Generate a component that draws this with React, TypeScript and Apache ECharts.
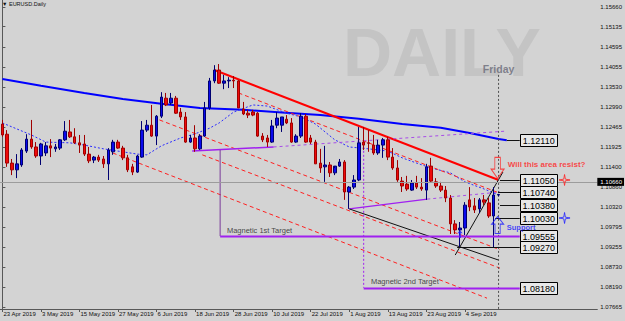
import React, { useEffect, useRef } from "react";
import * as echarts from "echarts";

const dates = [
  "23 Apr 2019","24 Apr 2019","25 Apr 2019","26 Apr 2019","29 Apr 2019","30 Apr 2019",
  "1 May 2019","2 May 2019","3 May 2019","6 May 2019","7 May 2019","8 May 2019","9 May 2019","10 May 2019",
  "13 May 2019","14 May 2019","15 May 2019","16 May 2019","17 May 2019","20 May 2019","21 May 2019","22 May 2019",
  "23 May 2019","24 May 2019","27 May 2019","28 May 2019","29 May 2019","30 May 2019","31 May 2019",
  "3 Jun 2019","4 Jun 2019","5 Jun 2019","6 Jun 2019","7 Jun 2019","10 Jun 2019","11 Jun 2019","12 Jun 2019",
  "13 Jun 2019","14 Jun 2019","17 Jun 2019","18 Jun 2019","19 Jun 2019","20 Jun 2019","21 Jun 2019","24 Jun 2019",
  "25 Jun 2019","26 Jun 2019","27 Jun 2019","28 Jun 2019",
  "1 Jul 2019","2 Jul 2019","3 Jul 2019","4 Jul 2019","5 Jul 2019","8 Jul 2019","9 Jul 2019","10 Jul 2019",
  "11 Jul 2019","12 Jul 2019","15 Jul 2019","16 Jul 2019","17 Jul 2019","18 Jul 2019","19 Jul 2019","22 Jul 2019",
  "23 Jul 2019","24 Jul 2019","25 Jul 2019","26 Jul 2019","29 Jul 2019","30 Jul 2019","31 Jul 2019",
  "1 Aug 2019","2 Aug 2019","5 Aug 2019","6 Aug 2019","7 Aug 2019","8 Aug 2019","9 Aug 2019","12 Aug 2019",
  "13 Aug 2019","14 Aug 2019","15 Aug 2019","16 Aug 2019","19 Aug 2019","20 Aug 2019","21 Aug 2019","22 Aug 2019",
  "23 Aug 2019","26 Aug 2019","27 Aug 2019","28 Aug 2019","29 Aug 2019","30 Aug 2019",
  "2 Sep 2019","3 Sep 2019","4 Sep 2019","5 Sep 2019","6 Sep 2019","9 Sep 2019","10 Sep 2019","11 Sep 2019",
  "12 Sep 2019","13 Sep 2019"
];

const opens = [
  1.1254,1.1227,1.1150,1.1132,1.1145,1.1182,1.1214,1.1193,1.1169,1.1177,1.1196,1.1188,1.1190,1.1212,
  1.1233,1.1220,1.1204,1.1201,1.1174,1.1158,1.1166,1.1161,1.1148,1.1180,1.1206,1.1190,1.1164,1.1140,1.1126,
  1.1166,1.1238,1.1251,1.1222,1.1275,1.1323,1.1310,1.1323,1.1286,1.1273,1.1206,1.1217,1.1188,1.1222,1.1297,
  1.1369,1.1398,1.1363,1.1369,1.1371,1.1369,1.1294,1.1283,1.1286,1.1283,1.1222,1.1217,1.1206,1.1251,1.1251,
  1.1267,1.1257,1.1206,1.1222,1.1275,1.1217,1.1206,1.1150,1.1140,1.1145,1.1124,1.1142,1.1153,1.1073,1.1086,
  1.1105,1.1206,1.1204,1.1198,1.1177,1.1198,1.1212,1.1166,1.1137,1.1102,1.1094,1.1078,1.1097,1.1086,1.1078,
  1.1142,1.1100,1.1089,1.1078,1.1057,1.0988,1.0972,1.0977,1.1052,1.1036,1.1028,1.1052,1.1044,1.1009,1.1065
];
const highs = [
  1.1265,1.1238,1.1161,1.1174,1.1190,1.1227,1.1265,1.1206,1.1204,1.1206,1.1214,1.1201,1.1214,1.1262,
  1.1265,1.1243,1.1225,1.1225,1.1193,1.1169,1.1172,1.1169,1.1190,1.1212,1.1212,1.1196,1.1172,1.1148,1.1172,
  1.1262,1.1265,1.1305,1.1278,1.1339,1.1337,1.1337,1.1329,1.1297,1.1286,1.1225,1.1251,1.1227,1.1313,1.1377,
  1.1411,1.1414,1.1385,1.1379,1.1382,1.1371,1.1313,1.1292,1.1292,1.1286,1.1230,1.1225,1.1265,1.1286,1.1273,
  1.1278,1.1270,1.1227,1.1283,1.1281,1.1225,1.1212,1.1188,1.1196,1.1153,1.1137,1.1161,1.1158,1.1089,1.1118,
  1.1246,1.1246,1.1238,1.1225,1.1212,1.1217,1.1220,1.1190,1.1158,1.1113,1.1116,1.1105,1.1116,1.1110,1.1148,
  1.1164,1.1110,1.1100,1.1089,1.1065,1.0998,1.0993,1.1046,1.1086,1.1057,1.1057,1.1065,1.1057,1.1086,1.1068
];
const lows = [
  1.1220,1.1140,1.1118,1.1110,1.1140,1.1177,1.1188,1.1164,1.1145,1.1169,1.1166,1.1180,1.1185,1.1209,
  1.1217,1.1201,1.1177,1.1169,1.1150,1.1150,1.1153,1.1137,1.1105,1.1172,1.1188,1.1158,1.1126,1.1118,1.1124,
  1.1164,1.1233,1.1220,1.1198,1.1270,1.1302,1.1305,1.1281,1.1265,1.1204,1.1204,1.1180,1.1185,1.1220,1.1292,
  1.1363,1.1361,1.1347,1.1350,1.1350,1.1297,1.1278,1.1270,1.1275,1.1220,1.1206,1.1193,1.1204,1.1243,1.1233,
  1.1254,1.1204,1.1204,1.1217,1.1204,1.1201,1.1148,1.1124,1.1100,1.1113,1.1118,1.1140,1.1052,1.1028,1.1081,
  1.1102,1.1185,1.1180,1.1172,1.1172,1.1164,1.1158,1.1132,1.1100,1.1073,1.1076,1.1076,1.1081,1.1076,1.1052,
  1.1100,1.1084,1.1073,1.1046,1.0961,1.0961,1.0926,1.0958,1.1022,1.1017,1.1017,1.1038,1.1004,1.0926,1.1062
];
const closes = [
  1.1225,1.1150,1.1132,1.1148,1.1185,1.1214,1.1193,1.1169,1.1201,1.1196,1.1190,1.1193,1.1212,1.1235,
  1.1220,1.1204,1.1198,1.1174,1.1156,1.1166,1.1158,1.1148,1.1185,1.1206,1.1190,1.1164,1.1132,1.1126,1.1169,
  1.1238,1.1251,1.1222,1.1275,1.1326,1.1305,1.1323,1.1283,1.1273,1.1206,1.1217,1.1188,1.1222,1.1297,1.1369,
  1.1398,1.1363,1.1369,1.1371,1.1369,1.1297,1.1281,1.1278,1.1278,1.1222,1.1212,1.1206,1.1249,1.1270,1.1273,
  1.1257,1.1206,1.1222,1.1275,1.1206,1.1206,1.1148,1.1137,1.1145,1.1124,1.1142,1.1153,1.1073,1.1086,1.1105,
  1.1204,1.1198,1.1203,1.1177,1.1198,1.1212,1.1166,1.1137,1.1105,1.1089,1.1081,1.1097,1.1086,1.1081,1.1140,
  1.1102,1.1089,1.1078,1.1057,1.0988,1.0972,1.0977,1.1038,1.1033,1.1025,1.1052,1.1046,1.1009,1.1065,1.1066
];

const futureSlots = ["f1","f2","f3","f4","f5","f6","f7","f8","f9","f10","f11","f12","f13","f14","f15","f16","f17","f18","f19","f20"];

const yTicks = [1.15660,1.15135,1.14595,1.14055,1.13530,1.12990,1.12465,1.11925,1.11400,1.10860,1.10320,1.09795,1.09255,1.08730,1.08190,1.07665];
const Y_MIN = 1.076118;
const Y_MAX = 1.158466;
const BID = 1.1066;

// moving averages: [bar index, price]
const maSlow = [[0,1.1374],[8,1.1356],[17,1.1337],[25,1.1321],[33,1.1308],[41,1.1297],[50,1.1292],[58,1.1285],[66,1.1278],[74,1.1268],[83,1.1254],[91,1.1244],[97,1.1230],[103,1.1214],[104.7,1.1211]];
const maFast = [[0,1.1257],[6,1.1225],[9,1.1206],[14,1.1204],[17,1.1198],[21,1.1188],[24,1.1182],[28,1.1174],[30,1.1172],[33,1.1196],[37,1.1217],[40,1.1228],[43,1.1243],[45,1.1257],[48,1.1286],[52,1.1305],[55,1.1302],[59,1.1283],[62,1.1273],[65,1.1254],[69,1.1212],[72,1.1193],[76,1.1188],[80,1.1182],[83,1.1164],[86,1.1150],[89,1.1137],[93,1.1124],[96,1.1100],[100,1.1081],[103,1.1065]];

// trend lines: [bar index, price] endpoints
const redMain = [[44,1.1398],[103,1.1105]];
const redDashed = [
  [[49,1.1337],[103,1.1071]],
  [[32.6,1.1265],[103.3,1.0919]],
  [[41.5,1.1172],[103.3,1.0870]],
  [[22.9,1.1177],[100.6,1.0790]]
];
const purpleSolid = [
  [[39.4,1.1182],[56.3,1.1193]],
  [[72,1.1028],[88.2,1.1054]]
];
const purpleDashed = [
  [[56.3,1.1193],[104.3,1.1235]],
  [[88.2,1.1054],[103.3,1.1073]]
];
const magnetic1Vertical = [[45.2,1.1185],[45.2,1.09555]];
const magnetic2Vertical = [[75,1.1204],[75,1.0818]];
const blackLines = [
  [[72,1.1028],[102.9,1.0892]],
  [[94,1.0905],[103.9,1.1126]]
];
const fridayLine = [[103,1.1385],[103,Y_MIN]];

// price level boxes
const levelPrices = [1.12110,1.11050,1.10740,1.10380,1.10030,1.09555,1.09270,1.08180];
const levelStarts = [104.7,103.3,102.9,103.3,102.3,45.2,94.4,75];
const levelPurple = [false,false,false,false,false,true,false,true];
const BOX_IDX = 107.4;

// annotations
const textNotes = [
  { at: [46.6, 1.09691], text: "Magnetic 1st Target", color: "#1a1a1a", bold: false, size: 7.5 },
  { at: [76.5, 1.08332], text: "Magnetic 2nd Target", color: "#1a1a1a", bold: false, size: 7.5 },
  { at: [104.9, 1.11450], text: "Will this area resist?", color: "#ff1e1e", bold: true, size: 8 },
  { at: [104.7, 1.09797], text: "Support", color: "#1a1aff", bold: true, size: 7.5 }
];
const fridayLabel = [103, 1.1401];
const downArrow = [102.8, 1.1137];
const upArrow = [102.8, 1.0985];
const smallArrow = [95, 1.0961];
const stars = [
  { at: [116.7, 1.11050], color: "#ff2020" },
  { at: [116.7, 1.10037], color: "#2020ff" }
];

const FONT = "Liberation Sans, Arial, sans-serif";

export default function App() {
  const ref = useRef<HTMLDivElement>(null);
  useEffect(() => {
    document.body.style.margin = "0";
    const chart = echarts.init(ref.current!, null, { renderer: "svg" });
    const categories = [...dates, ...futureSlots];
    const candles = dates.map((_, i) => [opens[i], closes[i], lows[i], highs[i]]);
    const showIdx = (i: number) => i % 8 === 0 && i < dates.length;

    const lineSeries = (data: number[][], color: string, width: number, type: any) => ({
      type: "line",
      xAxisIndex: 1,
      yAxisIndex: 0,
      data,
      showSymbol: false,
      symbol: "none",
      silent: true,
      animation: false,
      lineStyle: { color, width, type },
      z: 3,
    });

    const series: any[] = [];
    series.push(lineSeries(maSlow, "#0000ff", 2, "solid"));
    series.push(lineSeries(maFast, "#2a2aff", 1, [2, 2]));
    redDashed.forEach((d) => series.push(lineSeries(d, "#ff2020", 1, [4, 3])));
    series.push(lineSeries(redMain, "#ff0000", 2, "solid"));
    purpleSolid.forEach((d) => series.push(lineSeries(d, "#a020f0", 1.5, "solid")));
    purpleDashed.forEach((d) => series.push(lineSeries(d, "#a84ce8", 1, [3, 3])));
    series.push(lineSeries(magnetic1Vertical, "#7a3a9a", 1, "solid"));
    series.push(lineSeries(magnetic2Vertical, "#a020f0", 1, [2, 2]));
    blackLines.forEach((d) => series.push(lineSeries(d, "#111111", 1, "solid")));
    series.push(lineSeries(fridayLine, "#505050", 1, [2, 2]));

    series.push({
      type: "candlestick",
      data: candles,
      barWidth: 3,
      z: 4,
      itemStyle: {
        color: "#0a0aee",
        color0: "#ee0a0a",
        borderColor: "#000070",
        borderColor0: "#a00000",
        borderWidth: 1,
      },
      markLine: {
        silent: true,
        symbol: ["none", "none"],
        animation: false,
        data: [{ yAxis: BID }],
        lineStyle: { color: "#9c9c9c", width: 1, type: "solid" },
        label: {
          show: true,
          position: "end",
          distance: 0,
          formatter: BID.toFixed(5),
          color: "#ffffff",
          backgroundColor: "#000000",
          fontSize: 6,
          fontFamily: FONT,
          padding: [1, 2, 1, 3],
        },
      },
    });

    series.push({
      type: "custom",
      xAxisIndex: 1,
      yAxisIndex: 0,
      z: 6,
      silent: true,
      data: levelPrices.map((p, i) => [levelStarts[i], p]),
      renderItem: (params: any, api: any) => {
        const i = params.dataIndex;
        const start = api.coord([api.value(0), api.value(1)]);
        const box = api.coord([BOX_IDX, api.value(1)]);
        const y = Math.round(start[1]) + 0.5;
        const purple = levelPurple[i];
        return {
          type: "group",
          children: [
            {
              type: "line",
              shape: { x1: start[0], y1: y, x2: box[0], y2: y },
              style: { stroke: purple ? "#a020f0" : "#111111", lineWidth: purple ? 2 : 1 },
            },
            {
              type: "rect",
              shape: { x: Math.round(box[0]) + 0.5, y: y - 6, width: 37, height: 12 },
              style: { fill: "#e8e8e8", stroke: "#000000", lineWidth: 1 },
            },
            {
              type: "text",
              style: {
                text: levelPrices[i].toFixed(5),
                x: box[0] + 19,
                y: y,
                align: "center",
                verticalAlign: "middle",
                font: `9px ${FONT}`,
                fill: "#000000",
              },
            },
          ],
        };
      },
    });

    textNotes.forEach((n) =>
      series.push({
        type: "scatter",
        xAxisIndex: 1,
        yAxisIndex: 0,
        data: [n.at],
        symbolSize: 0,
        silent: true,
        z: 7,
        label: {
          show: true,
          position: "right",
          distance: 0,
          formatter: n.text,
          color: n.color,
          fontSize: n.size,
          fontWeight: n.bold ? "bold" : "normal",
          fontFamily: FONT,
        },
      })
    );

    series.push({
      type: "scatter",
      xAxisIndex: 1,
      yAxisIndex: 0,
      data: [fridayLabel],
      symbolSize: 0,
      silent: true,
      z: 7,
      label: {
        show: true,
        position: "inside",
        formatter: "Friday",
        color: "#6a6a78",
        fontSize: 10.5,
        fontWeight: "bold",
        fontFamily: FONT,
      },
    });

    series.push({
      type: "scatter",
      xAxisIndex: 1,
      yAxisIndex: 0,
      data: [downArrow],
      symbol: "path://M4,0 L10,0 L10,11 L14,11 L7,20 L0,11 L4,11 Z",
      symbolSize: [13, 21],
      silent: true,
      z: 7,
      itemStyle: { color: "rgba(0,0,0,0)", borderColor: "#ff2020", borderWidth: 1 },
    });
    series.push({
      type: "scatter",
      xAxisIndex: 1,
      yAxisIndex: 0,
      data: [upArrow],
      symbol: "path://M7,0 L14,9 L10,9 L10,20 L4,20 L4,9 L0,9 Z",
      symbolSize: [12, 17],
      silent: true,
      z: 7,
      itemStyle: { color: "rgba(0,0,0,0)", borderColor: "#1a1aff", borderWidth: 1 },
    });
    series.push({
      type: "scatter",
      xAxisIndex: 1,
      yAxisIndex: 0,
      data: [smallArrow],
      symbol: "path://M3,0 L6,4 L4,4 L4,10 L2,10 L2,4 L0,4 Z",
      symbolSize: [5, 8],
      silent: true,
      z: 7,
      itemStyle: { color: "#1a1aff" },
    });
    stars.forEach((s) =>
      series.push({
        type: "scatter",
        xAxisIndex: 1,
        yAxisIndex: 0,
        data: [s.at],
        symbol: "path://M10,0 L11.5,8.5 L20,10 L11.5,11.5 L10,20 L8.5,11.5 L0,10 L8.5,8.5 Z",
        symbolSize: 11,
        silent: true,
        z: 7,
        itemStyle: { color: "rgba(0,0,0,0)", borderColor: s.color, borderWidth: 1 },
      })
    );

    chart.setOption({
      animation: false,
      backgroundColor: "#d3d3d3",
      textStyle: { fontFamily: FONT },
      grid: { left: -3.6, right: 27, top: 0, bottom: 12 },
      graphic: [
        {
          type: "text",
          z: -10,
          left: 343,
          top: 18,
          silent: true,
          style: { text: "DAILY", font: `bold 68px ${FONT}`, fill: "#c4c4c4" },
        },
        {
          type: "text",
          left: 2,
          top: 1,
          silent: true,
          style: { text: "\u25BC EURUSD.Daily", font: `5.5px ${FONT}`, fill: "#101010" },
        },
      ],
      xAxis: [
        {
          type: "category",
          data: categories,
          boundaryGap: true,
          axisLine: { show: true, lineStyle: { color: "#585858", width: 1 } },
          axisTick: {
            show: true,
            alignWithLabel: true,
            interval: (i: number) => showIdx(i),
            length: 3,
            lineStyle: { color: "#585858" },
          },
          axisLabel: {
            show: true,
            interval: (i: number) => showIdx(i),
            align: "left",
            margin: 2,
            padding: [0, 0, 0, 1],
            fontSize: 6,
            color: "#101010",
            fontFamily: FONT,
          },
          splitLine: { show: false },
        },
        { type: "value", min: -0.5, max: 123.5, show: false },
      ],
      yAxis: {
        type: "value",
        position: "right",
        min: Y_MIN,
        max: Y_MAX,
        scale: true,
        axisLine: { show: true, lineStyle: { color: "#585858", width: 1 } },
        axisTick: { show: true, customValues: yTicks, length: 3, lineStyle: { color: "#585858" } },
        axisLabel: {
          show: true,
          customValues: yTicks,
          formatter: (v: number) => v.toFixed(5),
          margin: 3,
          fontSize: 6,
          color: "#101010",
          fontFamily: FONT,
        },
        splitLine: { show: false },
      },
      series,
    });
    return () => chart.dispose();
  }, []);
  return <div ref={ref} style={{ width: 625, height: 321 }} />;
}
